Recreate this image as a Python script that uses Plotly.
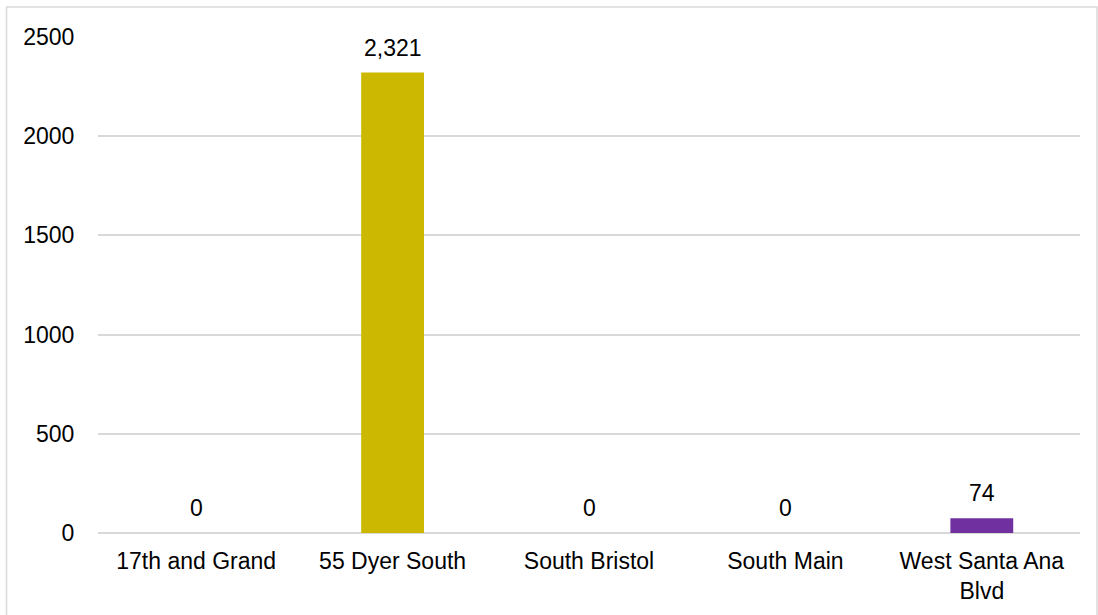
import plotly.graph_objects as go

categories = ["17th and Grand", "55 Dyer South", "South Bristol", "South Main", "West Santa Ana<br>Blvd"]
values = [0, 2321, 0, 0, 74]
bar_colors = ["#4472C4", "#CCB800", "#A5A5A5", "#ED7D31", "#7030A0"]
y_ticks = [0, 500, 1000, 1500, 2000, 2500]

W, H = 1098, 615
ML, MR, MT, MB = 98, 18, 37, 82
PW, PH = W - ML - MR, H - MT - MB

FONT = dict(family="Liberation Sans, Arial, sans-serif", size=23, color="#000000")

fig = go.Figure()
fig.add_trace(go.Bar(
    x=categories, y=values, marker=dict(color=bar_colors, line=dict(width=0)),
    width=0.32, hoverinfo="skip",
))

for c, v in zip(categories, values):
    fig.add_annotation(x=c, y=v, text=f"{v:,}", showarrow=False,
                       yanchor="bottom", yshift=10, font=FONT)

def px_x(px):
    return (px - ML) / PW

def px_y(py):
    return (H - py - MB) / PH

fig.add_shape(type="rect", xref="paper", yref="paper",
              x0=px_x(6.5), x1=px_x(1097), y0=px_y(625), y1=px_y(7),
              line=dict(color="#D9D9D9", width=1.5), fillcolor="rgba(0,0,0,0)",
              layer="below")

fig.update_layout(
    width=W, height=H,
    margin=dict(l=ML, r=MR, t=MT, b=MB, autoexpand=False),
    paper_bgcolor="white", plot_bgcolor="white",
    font=FONT, showlegend=False, bargap=0.68,
    xaxis=dict(showgrid=False, showline=False, zeroline=False, automargin=False,
               ticks="outside", ticklen=7, tickcolor="rgba(0,0,0,0)",
               tickfont=FONT),
    yaxis=dict(range=[0, 2500], tickvals=y_ticks, ticktext=[str(t) for t in y_ticks],
               automargin=False,
               showgrid=True, gridcolor="#D9D9D9", gridwidth=1.5,
               zeroline=True, zerolinecolor="#D9D9D9", zerolinewidth=1.5,
               showline=False, ticks="outside", ticklen=18,
               tickcolor="rgba(0,0,0,0)", tickfont=FONT),
)

fig.write_html("out.html")
